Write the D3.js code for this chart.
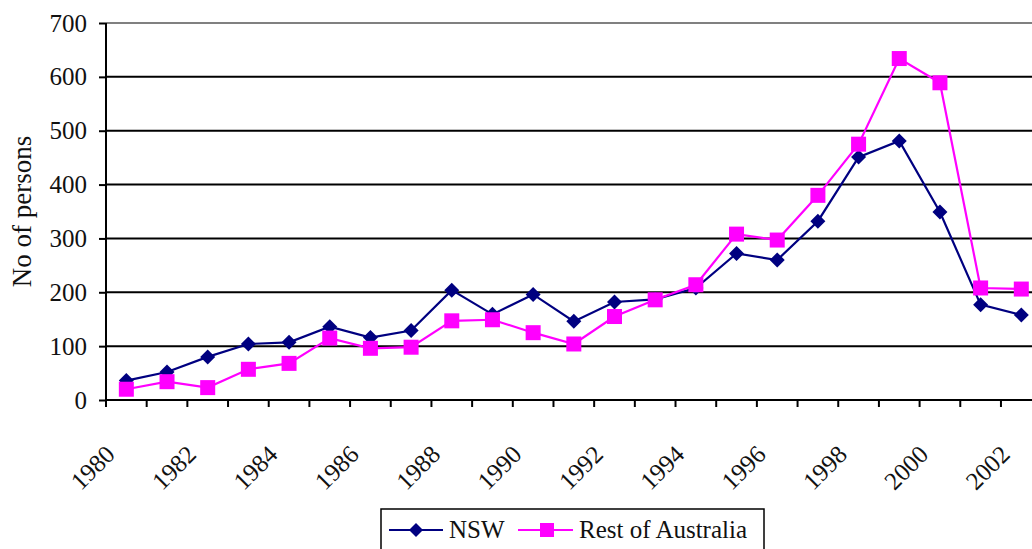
<!DOCTYPE html>
<html><head><meta charset="utf-8">
<script src="https://cdn.jsdelivr.net/npm/d3@7"></script>
<style>
html,body{margin:0;padding:0;background:#fff;}
svg text{font-family:"Liberation Serif","Times New Roman",Tinos,"DejaVu Serif","Noto Serif",serif !important;}
</style></head>
<body><svg id="c" width="1032" height="549"></svg>
<script>
const years = ["1980","1981","1982","1983","1984","1985","1986","1987","1988","1989","1990","1991","1992","1993","1994","1995","1996","1997","1998","1999","2000","2001","2002"];
const nsw = [36,52,80,104,107,136,116,129,204,159,196,146,182,187,208,272,260,332,451,481,349,177,158];
const rest = [20,34,23,57,68,115,96,98,147,149,125,104,155,186,214,308,297,380,475,634,589,208,206];
const yTicks = [0,100,200,300,400,500,600,700];
const seriesNames = ["NSW","Rest of Australia"];

const FONT = "'Liberation Serif','Times New Roman',Tinos,'DejaVu Serif','Noto Serif',serif";
const svg = d3.select("#c");
const x = d3.scaleBand().domain(years).range([106, 106 + 23*40.68]);
const y = d3.scaleLinear().domain([0,700]).range([400,23]);

svg.append("g").selectAll("line").data(yTicks.filter(d=>d>0)).join("line")
  .attr("x1",106).attr("x2",1032).attr("y1",d=>y(d)).attr("y2",d=>y(d))
  .attr("stroke",d=>d===700?"#808080":"#000").attr("stroke-width",2);

const yAxis = d3.axisLeft(y).tickValues(yTicks).tickSize(7).tickPadding(12).tickFormat(d3.format("d"));
const gy = svg.append("g").attr("transform","translate(106,0)").call(yAxis).attr("font-family",FONT);
gy.select(".domain").attr("stroke","#000").attr("stroke-width",2).attr("d","M0,"+y(700)+"V"+y(0));
gy.selectAll(".tick line").attr("stroke","#000").attr("stroke-width",2);
gy.selectAll(".tick text").attr("font-size",25).attr("fill","#111").style("font-family",FONT);

svg.append("line").attr("x1",106).attr("x2",1032).attr("y1",y(0)).attr("y2",y(0)).attr("stroke","#000").attr("stroke-width",2);
const edges = years.map(d=>x(d)).concat([x(years[years.length-1])+x.bandwidth()]);
svg.append("g").selectAll("line").data(edges).join("line")
  .attr("x1",d=>d).attr("x2",d=>d).attr("y1",y(0)).attr("y2",y(0)+7)
  .attr("stroke","#000").attr("stroke-width",2);
svg.append("g").selectAll("text").data(years.filter((d,i)=>i%2===0)).join("text")
  .attr("transform",d=>`translate(${x(d)+x.bandwidth()/2-10},456) rotate(-45)`)
  .attr("text-anchor","end").attr("font-size",25).attr("fill","#111").style("font-family",FONT).text(d=>d);

svg.append("text").attr("transform",`translate(31,${(y(0)+y(700))/2}) rotate(-90)`)
  .attr("text-anchor","middle").attr("font-size",27).attr("fill","#111").style("font-family",FONT).text("No of persons");

const cx = d => x(d)+x.bandwidth()/2;
const line = d3.line().x(d=>cx(d.year)).y(d=>y(d.v));
const nswData = years.map((yr,i)=>({year:yr,v:nsw[i]}));
const restData = years.map((yr,i)=>({year:yr,v:rest[i]}));

function drawDiamond(g, px, py, r, color){
  g.append("path").attr("d",`M${px},${py-r}L${px+r},${py}L${px},${py+r}L${px-r},${py}Z`).attr("fill",color);
}

svg.append("path").datum(nswData).attr("d",line).attr("fill","none").attr("stroke","#000080").attr("stroke-width",2.2);
const gN = svg.append("g");
nswData.forEach(d=>drawDiamond(gN,cx(d.year),y(d.v),7.5,"#000080"));

svg.append("path").datum(restData).attr("d",line).attr("fill","none").attr("stroke","#ff00ff").attr("stroke-width",2.2);
svg.append("g").selectAll("rect").data(restData).join("rect")
  .attr("x",d=>cx(d.year)-7.5).attr("y",d=>y(d.v)-7.5).attr("width",15).attr("height",15).attr("fill","#ff00ff");

const lg = svg.append("g");
lg.append("rect").attr("x",381).attr("y",509).attr("width",383).attr("height",60).attr("fill","#fff").attr("stroke","#000").attr("stroke-width",1.5);
lg.append("line").attr("x1",389).attr("x2",443).attr("y1",530).attr("y2",530).attr("stroke","#000080").attr("stroke-width",2.2);
drawDiamond(lg,416,530,7,"#000080");
lg.append("text").attr("x",449).attr("y",538).attr("font-size",25).attr("fill","#111").style("font-family",FONT).text(seriesNames[0]);
lg.append("line").attr("x1",518).attr("x2",573).attr("y1",530).attr("y2",530).attr("stroke","#ff00ff").attr("stroke-width",2.2);
lg.append("rect").attr("x",540).attr("y",523).attr("width",14).attr("height",14).attr("fill","#ff00ff");
lg.append("text").attr("x",579).attr("y",538).attr("font-size",25).attr("fill","#111").style("font-family",FONT).text(seriesNames[1]);
</script></body></html>
